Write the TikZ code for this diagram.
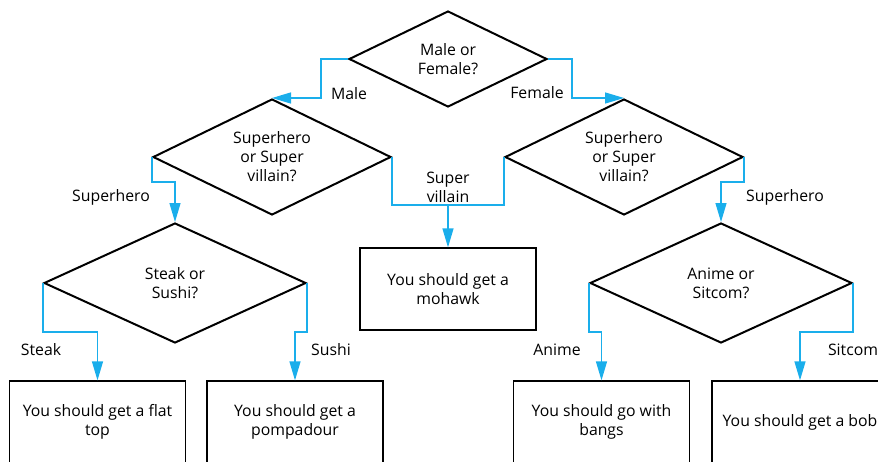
\documentclass[tikz,border=0pt]{standalone}
\usepackage{fontspec}
\setmainfont{Open Sans}
\usetikzlibrary{shapes.geometric,arrows.meta}
\definecolor{flowblue}{HTML}{1AAEEB}
\begin{document}
\begin{tikzpicture}[x=1pt,y=-1pt,
  every node/.style={font=\fontsize{15.8}{19}\selectfont},
  ques/.style={shape=diamond, draw, line width=2pt, inner sep=0pt, align=center, aspect=2},
  answer/.style={draw, line width=1.3pt, minimum width=176pt, minimum height=82pt, align=center, inner sep=0pt},
  conn/.style={draw=flowblue, line width=1.3pt},
  arr/.style={conn, -{Triangle[length=19pt,width=11pt]}},
  lbl/.style={inner sep=0pt, align=center}]
\path[use as bounding box, clip] (0,0) rectangle (878,461);

\node[ques, minimum width=198pt, minimum height=96pt] (q1) at (448,59) {Male or\\Female?};
\node[ques, minimum width=238pt, minimum height=116pt] (q2) at (272,157) {Superhero\\or Super\\villain?};
\node[ques, minimum width=238pt, minimum height=116pt] (q3) at (624,157) {Superhero\\or Super\\villain?};
\node[ques, minimum width=262pt, minimum height=120pt] (q4) at (175,283) {Steak or\\Sushi?};
\node[ques, minimum width=262pt, minimum height=120pt] (q5) at (721,283) {Anime or\\Sitcom?};

\node[answer] (a1) at (97.5,422) {You should get a flat\\top};
\node[answer] (a2) at (295,422) {You should get a\\pompadour};
\node[answer] (a3) at (448,289) {You should get a\\mohawk};
\node[answer] (a4) at (601.5,422) {You should go with\\bangs};
\node[answer] (a5) at (800,422) {You should get a bob};

\coordinate (jy) at (0,205);
\coordinate (j) at (a3.north |- jy);

\draw[arr] (q1.west) -- ++(-27,0) |- (q2.north);
\draw[arr] (q1.east) -- ++(24,0) |- (q3.north);
\draw[arr] (q2.west) -- ++(0,25) -| (q4.north);
\draw[arr] (q3.east) -- ++(0,25) -| (q5.north);
\draw[conn] (q2.east) |- (j);
\draw[conn] (q3.west) |- (j);
\draw[arr] (j) -- (a3.north);
\draw[arr] (q4.west) -- ++(0,49) -| (a1.north);
\draw[arr] (q4.east) -- ++(0,49) -| (a2.north);
\draw[arr] (q5.west) -- ++(0,49) -| (a4.north);
\draw[arr] (q5.east) -- ++(0,49) -| (a5.north);

\node[lbl] (l1) at (349,94) {Male};
\node[lbl] (l2) at (537,93) {Female};
\node[lbl] (l3) at (111,197) {Superhero};
\node[lbl] (l4) at (448,187) {Super\\villain};
\node[lbl] (l5) at (785,197) {Superhero};
\node[lbl] (l6) at (41,350) {Steak};
\node[lbl] (l7) at (331,350) {Sushi};
\node[lbl] (l8) at (557,350) {Anime};
\node[lbl] (l9) at (853,350) {Sitcom};
\end{tikzpicture}
\end{document}
